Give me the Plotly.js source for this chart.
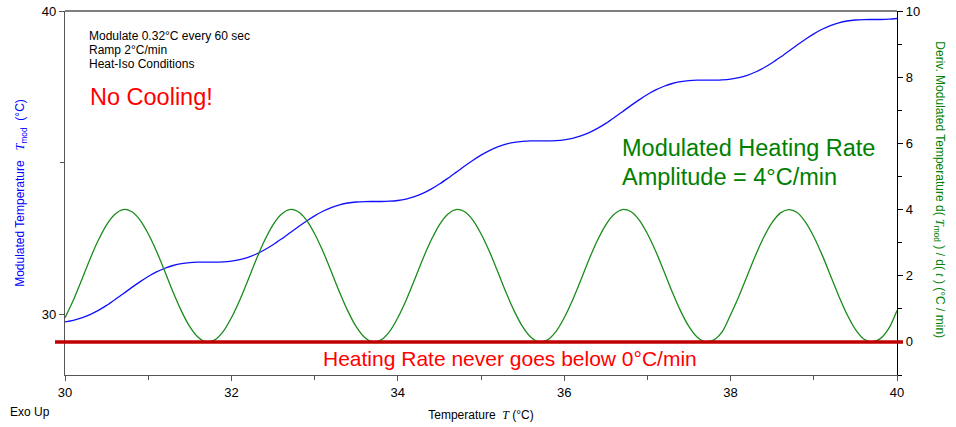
<!DOCTYPE html>
<html>
<head>
<meta charset="utf-8">
<script src="https://cdn.plot.ly/plotly-3.0.1.min.js"></script>
<style>html,body{margin:0;padding:0;background:#fff;}#chart{width:956px;height:427px;}</style>
</head>
<body>
<div id="chart"></div>
<script>
// Temperature T (°C) — x axis
const temperature = [30.0,30.1,30.2,30.3,30.4,30.5,30.6,30.7,30.8,30.9,
  31.0,31.1,31.2,31.3,31.4,31.5,31.6,31.7,31.8,31.9,
  32.0,32.1,32.2,32.3,32.4,32.5,32.6,32.7,32.8,32.9,
  33.0,33.1,33.2,33.3,33.4,33.5,33.6,33.7,33.8,33.9,
  34.0,34.1,34.2,34.3,34.4,34.5,34.6,34.7,34.8,34.9,
  35.0,35.1,35.2,35.3,35.4,35.5,35.6,35.7,35.8,35.9,
  36.0,36.1,36.2,36.3,36.4,36.5,36.6,36.7,36.8,36.9,
  37.0,37.1,37.2,37.3,37.4,37.5,37.6,37.7,37.8,37.9,
  38.0,38.1,38.2,38.3,38.4,38.5,38.6,38.7,38.8,38.9,
  39.0,39.1,39.2,39.3,39.4,39.5,39.6,39.7,39.8,39.9,40.0];

// Modulated temperature T_mod (°C) — left axis, blue
const modulatedTemp = [29.753,29.802,29.881,29.990,30.130,30.296,30.482,30.680,30.880,31.071,
  31.247,31.398,31.519,31.610,31.670,31.704,31.718,31.720,31.720,31.729,
  31.753,31.802,31.881,31.990,32.130,32.296,32.482,32.680,32.880,33.071,
  33.247,33.398,33.519,33.610,33.670,33.704,33.718,33.720,33.720,33.729,
  33.753,33.802,33.881,33.990,34.130,34.296,34.482,34.680,34.880,35.071,
  35.247,35.398,35.519,35.610,35.670,35.704,35.718,35.720,35.720,35.729,
  35.753,35.802,35.881,35.990,36.130,36.296,36.482,36.680,36.880,37.071,
  37.247,37.398,37.519,37.610,37.670,37.704,37.718,37.720,37.720,37.729,
  37.753,37.802,37.881,37.990,38.130,38.296,38.482,38.680,38.880,39.071,
  39.247,39.398,39.519,39.610,39.670,39.704,39.718,39.720,39.720,39.729,39.753];

// Deriv. modulated temperature d(T_mod)/d(t) (°C/min) — right axis, green
const heatingRate = [0.73,1.26,1.87,2.50,3.07,3.54,3.86,4.00,3.94,3.69,
  3.27,2.74,2.13,1.50,0.93,0.46,0.14,0.00,0.06,0.31,
  0.73,1.26,1.87,2.50,3.07,3.54,3.86,4.00,3.94,3.69,
  3.27,2.74,2.13,1.50,0.93,0.46,0.14,0.00,0.06,0.31,
  0.73,1.26,1.87,2.50,3.07,3.54,3.86,4.00,3.94,3.69,
  3.27,2.74,2.13,1.50,0.93,0.46,0.14,0.00,0.06,0.31,
  0.73,1.26,1.87,2.50,3.07,3.54,3.86,4.00,3.94,3.69,
  3.27,2.74,2.13,1.50,0.93,0.46,0.14,0.00,0.06,0.31,
  0.82,1.38,2.00,2.62,3.17,3.61,3.90,4.00,3.91,3.62,
  3.18,2.63,2.01,1.39,0.83,0.38,0.09,0.00,0.10,0.40,0.95];

const zeroRate = 0;

const FONT = "Liberation Sans, Arial, sans-serif";
const Tit = "<i><span style=\"font-family:Liberation Serif\">T</span></i>";
const tit = "<i><span style=\"font-family:Liberation Serif\">t</span></i>";

const traces = [
  {x: temperature, y: modulatedTemp, type: 'scatter', mode: 'lines', yaxis: 'y',
   line: {color: '#1010ff', width: 1.3, shape: 'spline', smoothing: 0.8}, hoverinfo: 'skip'},
  {x: temperature, y: heatingRate, type: 'scatter', mode: 'lines', yaxis: 'y2',
   line: {color: '#1a8c1a', width: 1.3, shape: 'spline', smoothing: 0.8}, hoverinfo: 'skip'}
];

const layout = {
  width: 956, height: 427,
  margin: {l: 65, r: 59, t: 11, b: 52},
  paper_bgcolor: '#ffffff', plot_bgcolor: '#ffffff',
  showlegend: false,
  font: {family: FONT, size: 13, color: '#000'},
  xaxis: {
    range: [30, 40], tickmode: 'linear', tick0: 30, dtick: 2,
    ticks: 'outside', ticklen: 5, tickcolor: '#555', tickwidth: 1,
    minor: {ticks: 'outside', dtick: 1, ticklen: 4, tickcolor: '#555'},
    showline: true, linecolor: '#555', linewidth: 1.2,
    showgrid: false, zeroline: false,
    tickfont: {size: 13, color: '#000'},
    title: {text: "Temperature  " + Tit + " (°C)", font: {size: 12, color: '#000'}, standoff: 11}
  },
  yaxis: {
    range: [28, 40], tickmode: 'linear', tick0: 30, dtick: 10,
    ticks: 'outside', ticklen: 5, tickcolor: '#555', tickwidth: 1,
    minor: {ticks: 'outside', dtick: 5, ticklen: 4, tickcolor: '#555'},
    showline: true, linecolor: '#555', linewidth: 1.2,
    showgrid: false, zeroline: false,
    tickfont: {size: 13, color: '#000'},
    title: {text: "Modulated Temperature   " + Tit + "<sub>mod</sub>  (°C)", font: {size: 12, color: '#0000ff'}, standoff: 14}
  },
  yaxis2: {
    range: [-1, 10], overlaying: 'y', side: 'right',
    tickmode: 'linear', tick0: 0, dtick: 2,
    ticks: 'outside', ticklen: 5, tickcolor: '#000', tickwidth: 1,
    minor: {ticks: 'outside', dtick: 1, ticklen: 4, tickcolor: '#000'},
    showline: true, linecolor: '#000', linewidth: 1.2,
    showgrid: false, zeroline: false,
    tickfont: {size: 13, color: '#000'}
  },
  shapes: [
    {type: 'line', xref: 'paper', yref: 'paper', x0: 0, x1: 1, y0: 1, y1: 1,
     line: {color: '#000', width: 1.2}},
    {type: 'line', xref: 'paper', yref: 'y2', x0: -0.012, x1: 1.0072, y0: zeroRate, y1: zeroRate,
     line: {color: '#c00000', width: 3.5}, layer: 'above'}
  ],
  annotations: [
    {xref: 'paper', yref: 'paper', x: 0.0264, y: 0.932, xanchor: 'left', yanchor: 'middle',
     text: 'Modulate 0.32°C every 60 sec', showarrow: false, font: {size: 12, color: '#000'}},
    {xref: 'paper', yref: 'paper', x: 0.0264, y: 0.8935, xanchor: 'left', yanchor: 'middle',
     text: 'Ramp 2°C/min', showarrow: false, font: {size: 12, color: '#000'}},
    {xref: 'paper', yref: 'paper', x: 0.0264, y: 0.855, xanchor: 'left', yanchor: 'middle',
     text: 'Heat-Iso Conditions', showarrow: false, font: {size: 12, color: '#000'}},
    {xref: 'paper', yref: 'paper', x: 0.0276, y: 0.763, xanchor: 'left', yanchor: 'middle',
     text: 'No Cooling!', showarrow: false, font: {size: 23.5, color: '#ff0000'}},
    {xref: 'paper', yref: 'paper', x: 0.667, y: 0.6245, xanchor: 'left', yanchor: 'middle',
     text: 'Modulated Heating Rate', showarrow: false, font: {size: 23.5, color: '#008000'}},
    {xref: 'paper', yref: 'paper', x: 0.667, y: 0.5448, xanchor: 'left', yanchor: 'middle',
     text: 'Amplitude = 4°C/min', showarrow: false, font: {size: 23.5, color: '#008000'}},
    {xref: 'paper', yref: 'paper', x: 0.535, y: 0.045, xanchor: 'center', yanchor: 'middle',
     text: 'Heating Rate never goes below 0°C/min', showarrow: false, font: {size: 21, color: '#ff0000'}},
    {xref: 'paper', yref: 'paper', x: -0.0685, y: -0.101, xanchor: 'left', yanchor: 'middle',
     text: 'Exo Up', showarrow: false, font: {size: 12, color: '#000'}},
    {xref: 'paper', yref: 'paper', x: 1.0505, y: 0.51, xanchor: 'center', yanchor: 'middle',
     textangle: 90,
     text: "Deriv. Modulated Temperature d( " + Tit + "<sub>mod</sub> ) / d( " + tit + " ) (°C / min)",
     showarrow: false, font: {size: 12, color: '#008000'}}
  ]
};

Plotly.newPlot('chart', traces, layout, {displayModeBar: false, staticPlot: true});
</script>
</body>
</html>
